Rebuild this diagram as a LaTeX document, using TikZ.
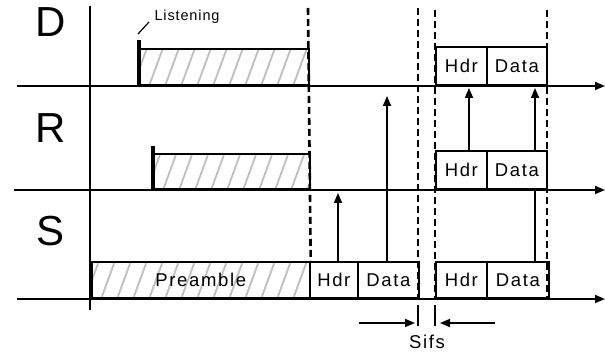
\documentclass[tikz,border=0pt]{standalone}
\usepackage{fontspec}
\setmainfont{Liberation Sans}
\newfontfamily\boxfont{Liberation Sans}[LetterSpace=9]
\newfontfamily\tagfont{Liberation Sans}[LetterSpace=6]
\usetikzlibrary{arrows.meta}
\definecolor{hatchgray}{RGB}{190,190,190}
\newcommand\hatchbox[4]{% left, top, right, bottom
  \begin{scope}
    \clip (#1,#2) rectangle (#3,#4);
    \foreach \h in {0,16,...,240}
      \draw[hatch] (#1+\h-6,#4) -- ++(14,-38);
  \end{scope}
}

\begin{document}
\begin{tikzpicture}[x=1pt,y=-1pt,>={Triangle[length=10pt,width=8pt]},
    axis/.style={line width=1.7pt},
    hatch/.style={hatchgray,line width=1.8pt},
    slot/.style={draw,line width=1.7pt,inner sep=0,anchor=south west,
      minimum height=36pt,font=\boxfont\fontsize{18.5}{20}\selectfont},
    bar/.style={line width=3.2pt},
    cut/.style={line width=2.6pt,dash pattern=on 7pt off 4pt},
    big/.style={anchor=base,font=\fontsize{42}{46}\selectfont}]
		\useasboundingbox (0,0) rectangle (605,352);

		\node[big] (lblD) at (51,37) {D};
		\node[big] (lblR) at (51,143) {R};
		\node[big] (lblS) at (51,246) {S};

		% axes
		\coordinate (top) at (90,6);
		\coordinate (bot) at (90,310);
		\coordinate (dL) at (17,86);  \coordinate (dR) at (605,86);
		\coordinate (rL) at (14,190); \coordinate (rR) at (605,190);
		\coordinate (sL) at (17,299); \coordinate (sR) at (605,299);
		\draw[axis] (top) -- (bot);
		\draw[axis,->] (dL) -- (dR);
		\draw[axis,->] (rL) -- (rR);
		\draw[axis,->] (sL) -- (sR);

		% D
		\hatchbox{139}{50}{308}{86}
		\node[slot,minimum width=169pt] (dPre) at (139,86) {};
		\draw[bar] (139,40) -- (139,86);
		\node[anchor=base west,font=\tagfont\fontsize{14.5}{16}\selectfont] (lsn) at (151,21) {Listening};
		\coordinate (lsnEnd) at (138,34);
		\draw[line width=1.2pt] (lsnEnd) -- (149,22);
		\node[slot,minimum width=51pt,minimum height=38pt] (dHdr) at (435,86) {Hdr};
		\node[slot,minimum width=60pt,minimum height=38pt] (dData) at (486,86) {Data};

		% R
		\hatchbox{153}{155}{309}{190}
		\node[slot,minimum width=156pt,minimum height=35pt] (rPre) at (153,190) {};
		\draw[bar] (153,146) -- (153,190);
		\node[slot,minimum width=51pt,minimum height=38pt] (rHdr) at (435,190) {Hdr};
		\node[slot,minimum width=60pt,minimum height=38pt] (rData) at (486,190) {Data};

		% S
		\hatchbox{91}{263}{309}{299}
		\node[slot,minimum width=218pt] (sPre) at (91,299) {Preamble};
		\node[slot,minimum width=48pt] (sHdr) at (309,299) {Hdr};
		\node[slot,minimum width=61pt] (sData) at (357,299) {Data};
		\node[slot,minimum width=51pt] (sHdr2) at (435,299) {Hdr};
		\node[slot,minimum width=62pt] (sData2) at (486,299) {Data};

		% dashed marks
		\draw[cut] (308,8) -- (sPre.north east);
		\draw[cut] (418,8) -- (418,299);
		\draw[cut] (435,10) -- (435,299);
		\draw[cut] (547,10) -- (547,299);

		% receptions
		\coordinate (tip1) at (338,193);
		\coordinate (tip2) at (387,96);
		\coordinate (tip3) at (469,88);
		\coordinate (tip4) at (535,88);
		\draw[axis,->] (sHdr.north -| tip1) -- (tip1);
		\draw[axis,->] (sData.north -| tip2) -- (tip2);
		\draw[axis,->] (rHdr.north -| tip3) -- (tip3);
		\draw[axis,->] (rData.north -| tip4) -- (tip4);
		\draw[axis] (sData2.north -| tip4) -- (rData.south -| tip4);

		% Sifs
		\draw[axis] (418,305) -- (418,326);
		\draw[axis] (435,305) -- (435,326);
		\coordinate (sfA) at (359,323); \coordinate (sfB) at (415,323);
		\coordinate (sfC) at (495,323); \coordinate (sfD) at (440,323);
		\draw[axis,->] (sfA) -- (sfB);
		\draw[axis,->] (sfC) -- (sfD);
		\node[font=\boxfont\fontsize{18.5}{20}\selectfont] (sifs) at (427,342) {Sifs};
	\end{tikzpicture}
\end{document}
